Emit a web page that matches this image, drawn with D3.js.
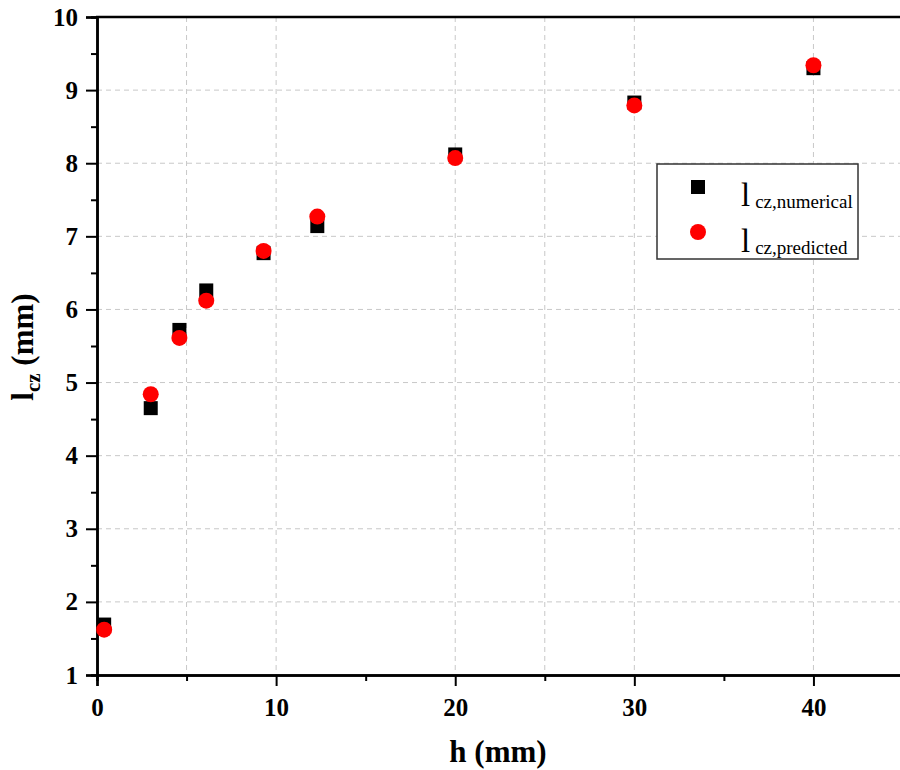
<!DOCTYPE html>
<html>
<head>
<meta charset="utf-8">
<script src="https://cdn.jsdelivr.net/npm/d3@7"></script>
<style>
  body { margin: 0; background: #fff; }
  svg text { font-family: "Liberation Serif", "Times New Roman", serif; }
</style>
</head>
<body>
<div id="chart"></div>
<script>
const hValues = [0.4, 3.0, 4.6, 6.1, 9.3, 12.3, 20, 30, 40]
const numerical = [1.69, 4.65, 5.72, 6.26, 6.77, 7.14, 8.12, 8.83, 9.30]
const predicted = [1.62, 4.84, 5.61, 6.12, 6.80, 7.27, 8.07, 8.79, 9.34]

const xMajor = [0, 10, 20, 30, 40]
const xMinor = [5, 15, 25, 35]
const xGrid = [5, 10, 20, 25, 30, 40]
const yMajor = [1, 2, 3, 4, 5, 6, 7, 8, 9, 10]
const yMinor = [1.5, 2.5, 3.5, 4.5, 5.5, 6.5, 7.5, 8.5, 9.5]
const yGrid = [2, 3, 4, 5, 6, 7, 8, 9]

const width = 900, height = 770
const plotLeft = 97, plotTop = 17, plotBottom = 675

const svg = d3.select('#chart')
  .append('svg')
  .attr('width', width)
  .attr('height', height)

const x = d3.scaleLinear().domain([0, 45]).range([plotLeft, 903])
const y = d3.scaleLinear().domain([1, 10]).range([plotBottom, plotTop])

// grid
svg.append('g').selectAll('line')
  .data(yGrid).join('line')
  .attr('x1', plotLeft).attr('x2', width)
  .attr('y1', d => y(d)).attr('y2', d => y(d))
  .attr('stroke', '#c8c8c8').attr('stroke-dasharray', '5,4')
svg.append('g').selectAll('line')
  .data(xGrid).join('line')
  .attr('x1', d => x(d)).attr('x2', d => x(d))
  .attr('y1', plotTop).attr('y2', plotBottom)
  .attr('stroke', '#c8c8c8').attr('stroke-dasharray', '5,4')

const styleAxis = g => {
  g.attr('font-family', null).attr('font-size', null)
  g.select('.domain').attr('stroke-width', 2.5)
  g.selectAll('.tick line').attr('stroke-width', 2)
  g.selectAll('.tick text')
    .style('font-family', '"Liberation Serif", "Times New Roman", serif')
    .style('font-weight', 'bold')
    .style('font-size', '25px')
    .attr('fill', '#000')
}

// x axis
svg.append('g')
  .attr('transform', `translate(0,${plotBottom})`)
  .call(d3.axisBottom(x).tickValues(xMajor).tickSize(11).tickPadding(12).tickFormat(d3.format('d')))
  .call(styleAxis)
svg.append('g')
  .attr('transform', `translate(0,${plotBottom})`)
  .call(d3.axisBottom(x).tickValues(xMinor).tickSize(6).tickFormat(''))
  .call(styleAxis)

// y axis
svg.append('g')
  .attr('transform', `translate(${plotLeft},0)`)
  .call(d3.axisLeft(y).tickValues(yMajor).tickSize(11).tickPadding(8).tickFormat(d3.format('d')))
  .call(styleAxis)
svg.append('g')
  .attr('transform', `translate(${plotLeft},0)`)
  .call(d3.axisLeft(y).tickValues(yMinor).tickSize(6).tickFormat(''))
  .call(styleAxis)

// top frame
svg.append('line')
  .attr('x1', plotLeft - 1).attr('x2', width)
  .attr('y1', plotTop).attr('y2', plotTop)
  .attr('stroke', '#000').attr('stroke-width', 2.5)

// axis titles
svg.append('text')
  .attr('x', 498).attr('y', 762)
  .attr('text-anchor', 'middle')
  .attr('font-size', 31).attr('font-weight', 'bold')
  .text('h (mm)')

const yt = svg.append('text')
  .attr('transform', 'translate(33,347) rotate(-90)')
  .attr('text-anchor', 'middle')
  .attr('font-size', 31).attr('font-weight', 'bold')
yt.append('tspan').text('l')
yt.append('tspan').attr('font-size', 21).attr('dy', 7).text('cz')
yt.append('tspan').attr('dy', -7).text(' (mm)')

// points
const pts = hValues.map((h, i) => ({ h, n: numerical[i], p: predicted[i] }))
const sq = 14
svg.append('g').selectAll('rect')
  .data(pts).join('rect')
  .attr('x', d => x(d.h) - sq / 2)
  .attr('y', d => y(d.n) - sq / 2)
  .attr('width', sq).attr('height', sq)
  .attr('fill', '#000')
svg.append('g').selectAll('circle')
  .data(pts).join('circle')
  .attr('cx', d => x(d.h))
  .attr('cy', d => y(d.p))
  .attr('r', 8)
  .attr('fill', '#ff0000')

// legend
const lg = svg.append('g')
lg.append('rect')
  .attr('x', 657).attr('y', 164).attr('width', 201).attr('height', 95)
  .attr('fill', '#fff').attr('stroke', '#333').attr('stroke-width', 1.5)
lg.append('rect')
  .attr('x', 698 - 7).attr('y', 187 - 7).attr('width', sq).attr('height', sq)
  .attr('fill', '#000')
lg.append('circle')
  .attr('cx', 698).attr('cy', 232).attr('r', 8)
  .attr('fill', '#ff0000')

const legendItems = ['cz,numerical', 'cz,predicted']
legendItems.forEach((s, i) => {
  const t = lg.append('text')
    .attr('x', 741).attr('y', 206 + i * 46)
    .attr('font-size', 33)
  t.append('tspan').text('l')
  t.append('tspan').attr('dx', 5).attr('dy', 2).attr('font-size', 19).text(s)
})
</script>
</body>
</html>
